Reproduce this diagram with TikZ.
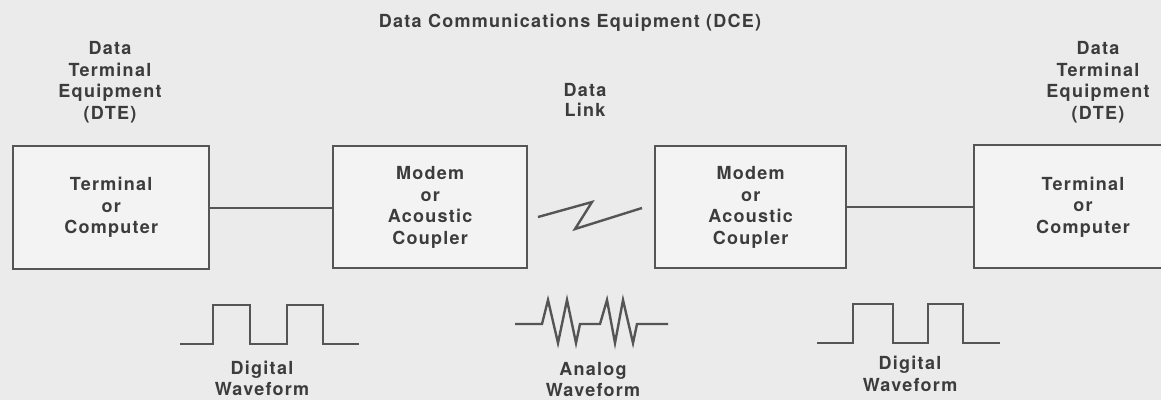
\documentclass[tikz,border=0pt]{standalone}
\usepackage{fontspec}
\setmainfont{TeX Gyre Heros}[LetterSpace=7]
\definecolor{bg}{HTML}{EBEBEB}
\definecolor{ink}{HTML}{3C3C3C}
\definecolor{linec}{HTML}{555555}
\begin{document}
\begin{tikzpicture}[x=1pt,y=-1pt,
  lbl/.style={text=ink,align=center,inner sep=0pt,font=\fontsize{18}{21.5}\selectfont\bfseries},
  unit/.style={draw=linec,line width=2.4pt,fill=bg!60!white,rectangle,anchor=north west,inner sep=0pt},
  wire/.style={draw=linec,line width=2.4pt},
  wave/.style={draw=linec,line width=2.4pt,line join=miter}]
\fill[bg] (0,0) rectangle (1161,400);
\useasboundingbox (0,0) rectangle (1161,400);
% titles
\node[lbl] (dce) at (570,23) {Data Communications Equipment (DCE)};
\node[lbl] (dteL) at (110,82) {Data\\Terminal\\Equipment\\(DTE)};
\node[lbl] (dteR) at (1098,82) {Data\\Terminal\\Equipment\\(DTE)};
\node[lbl,font=\fontsize{18}{20}\selectfont\bfseries] (link) at (585,100) {Data\\Link};
% boxes
\node[unit,minimum width=196pt,minimum height=123pt] (box1) at (12,145) {};
\node[lbl] (t1) at (box1.center) {Terminal\\or\\Computer};
\node[unit,minimum width=194pt,minimum height=122pt] (box2) at (332,145) {};
\node[lbl] (t2) at (box2.center) {Modem\\or\\Acoustic\\Coupler};
\node[unit,minimum width=191pt,minimum height=122pt] (box3) at (654,145) {};
\node[lbl] (t3) at (box3.center) {Modem\\or\\Acoustic\\Coupler};
\node[unit,minimum width=220pt,minimum height=123pt] (box4) at (973,144) {};
\node[lbl] (t4) at (1083,207) {Terminal\\or\\Computer};
% connectors
\draw[wire] (box1.east |- 0,208) -- (box2.west |- 0,208);
\draw[wire] (box3.east |- 0,207) -- (box4.west |- 0,207);
% data link zigzag
\draw[wave] (538,217) -- (592,202) -- (575,229) -- (642,208);
% digital waveform left
\draw[wave] (180,344) -- (213,344) -- (213,305) -- (250,305) -- (250,344) -- (287,344) -- (287,305) -- (323,305) -- (323,344) -- (359,344);
% analog waveform
\draw[wave] (515,324) -- (542,324) -- (548,300) -- (558,343) -- (567,300) -- (576,343) -- (580,324) -- (600,324) -- (607,300) -- (615,343) -- (623,300) -- (633,343) -- (637,324) -- (668,324);
% digital waveform right
\draw[wave] (817,343) -- (853,343) -- (853,304) -- (893,304) -- (893,343) -- (928,343) -- (928,304) -- (963,304) -- (963,343) -- (1000,343);
% waveform labels
\node[lbl] (digL) at (262,378.5) {Digital\\Waveform};
\node[lbl] (ana) at (593,379.5) {Analog\\Waveform};
\node[lbl] (digR) at (910,374) {Digital\\Waveform};
\end{tikzpicture}
\end{document}
